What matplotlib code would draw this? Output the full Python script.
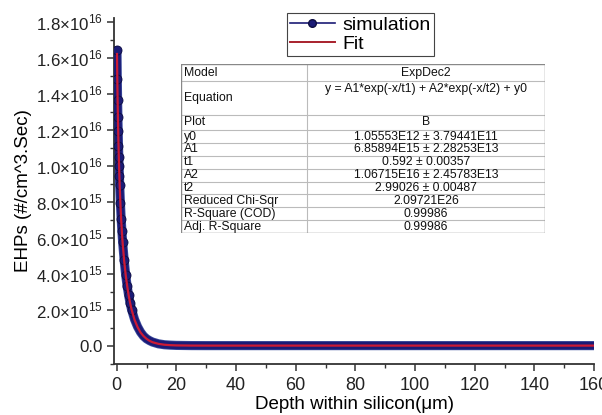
import numpy as np
import matplotlib
matplotlib.use('Agg')
import matplotlib.pyplot as plt
from matplotlib.lines import Line2D
from matplotlib.ticker import FixedLocator, FixedFormatter, MultipleLocator

plt.rcParams['font.family'] = ['Liberation Sans', 'DejaVu Sans']
plt.rcParams['mathtext.fontset'] = 'custom'
plt.rcParams['mathtext.rm'] = 'Liberation Sans'

# depth (um) and EHP values (1e15 /cm^3.s)
depth = [0.1, 0.2, 0.3, 0.4, 0.5, 0.6, 0.7, 0.8, 0.9, 1.0,
         1.25, 1.5, 1.75, 2.0, 2.5, 3.0, 3.5, 4.0, 4.5, 5.0,
         6, 7, 8, 9, 10, 11, 12, 14, 16, 18, 20, 25, 30,
         40, 50, 60, 70, 80, 90, 100, 110, 120, 130, 140, 150, 160]
sim = [16.4, 14.8, 13.65, 12.7, 11.95, 11.1, 10.5, 10.0, 9.45, 8.95,
       7.9, 7.05, 6.35, 5.75, 4.75, 3.95, 3.3, 2.8, 2.35, 2.0,
       1.45, 1.05, 0.75, 0.53, 0.38, 0.28, 0.2, 0.1, 0.05, 0.027, 0.014, 0.003, 0.001,
       0.001, 0.001, 0.001, 0.001, 0.001, 0.001, 0.001, 0.001, 0.001, 0.001, 0.001, 0.001, 0.001]
fit = [16.2, 14.85, 13.75, 12.8, 11.95, 11.2, 10.55, 9.95, 9.4, 8.9,
       7.85, 7.0, 6.3, 5.7, 4.72, 3.95, 3.33, 2.8, 2.37, 2.0,
       1.43, 1.03, 0.73, 0.53, 0.38, 0.27, 0.19, 0.1, 0.05, 0.026, 0.013, 0.003, 0.001,
       0.001, 0.001, 0.001, 0.001, 0.001, 0.001, 0.001, 0.001, 0.001, 0.001, 0.001, 0.001, 0.001]

yticks = [0, 2e15, 4e15, 6e15, 8e15, 1e16, 1.2e16, 1.4e16, 1.6e16, 1.8e16]
ytick_labels = ['0.0'] + ['%s\u00d710$^{%s}$' % (m, e) for m, e in
                          [('2.0', 15), ('4.0', 15), ('6.0', 15), ('8.0', 15), ('1.0', 16),
                           ('1.2', 16), ('1.4', 16), ('1.6', 16), ('1.8', 16)]]

table_rows = [('Model', 'ExpDec2'),
              ('Equation', 'y = A1*exp(-x/t1) + A2*exp(-x/t2) + y0'),
              ('Plot', 'B'),
              ('y0', '1.05553E12 \u00b1 3.79441E11'),
              ('A1', '6.85894E15 \u00b1 2.28253E13'),
              ('t1', '0.592 \u00b1 0.00357'),
              ('A2', '1.06715E16 \u00b1 2.45783E13'),
              ('t2', '2.99026 \u00b1 0.00487'),
              ('Reduced Chi-Sqr', '2.09721E26'),
              ('R-Square (COD)', '0.99986'),
              ('Adj. R-Square', '0.99986')]

W, H = 602, 415
fig = plt.figure(figsize=(W / 100, H / 100), dpi=100)
ax = fig.add_axes([114.3 / W, 1 - 364 / H, (594 - 114.3) / W, (364 - 18) / H])

x = np.array(depth)
ys = np.array(sim) * 1e15
yf = np.array(fit) * 1e15

navy = '#1b1b76'
red = '#cc1a34'
# dense marker band
ax.plot(x, ys, color='#3a4a9c', lw=6.6, solid_capstyle='round', zorder=2)
ax.plot(x, ys, color=navy, lw=5.4, solid_capstyle='round', zorder=3)
ax.plot(x[:20], ys[:20], 'o', color=navy, mec='#0c0c40', ms=6.5, mew=0.6, zorder=4)
ax.plot(x, yf, color=red, lw=1.6, zorder=5)

ax.set_xlim(-0.8, 160)
ax.set_ylim(-1.02e15, 1.82e16)
for s in ['top', 'right']:
    ax.spines[s].set_visible(False)
for s in ['left', 'bottom']:
    ax.spines[s].set_color('#333333')
    ax.spines[s].set_linewidth(1.3)

ax.xaxis.set_major_locator(MultipleLocator(20))
ax.xaxis.set_minor_locator(MultipleLocator(10))
ax.yaxis.set_major_locator(FixedLocator(yticks))
ax.yaxis.set_major_formatter(FixedFormatter(ytick_labels))
ax.yaxis.set_minor_locator(MultipleLocator(1e15))
ax.tick_params(which='major', direction='out', length=5, width=1.1, color='#333333')
ax.tick_params(which='minor', direction='out', length=3, width=1.0, color='#333333')
ax.tick_params(axis='x', labelsize=13, pad=4, labelcolor='#222222')
ax.tick_params(axis='y', labelsize=12.2, pad=3, labelcolor='#222222')

ax.set_xlabel('Depth within silicon(\u03bcm)', fontsize=13.5, labelpad=2)
ax.set_ylabel('EHPs (#/cm^3.Sec)', fontsize=13.5, labelpad=3)

handles = [Line2D([], [], color=navy, lw=1.2, marker='o', ms=5.5, mec='#0c0c40'),
           Line2D([], [], color='#a8202c', lw=1.4)]
leg = ax.legend(handles, ['simulation', 'Fit'], loc='upper left',
                bbox_to_anchor=(287 / W, 1 - 13 / H), bbox_transform=fig.transFigure,
                fontsize=14, frameon=True, fancybox=False, framealpha=1,
                borderpad=0.15, handlelength=2.3, handletextpad=0.4,
                labelspacing=0.1, borderaxespad=0)
leg.get_frame().set_edgecolor('#444444')
leg.get_frame().set_linewidth(0.8)

# fit report table
tx0, tx1, tcol, ty0, ty1 = 181, 545, 307, 64, 233
tab = fig.add_axes([tx0 / W, 1 - ty1 / H, (tx1 - tx0) / W, (ty1 - ty0) / H])
tab.set_xlim(tx0, tx1)
tab.set_ylim(ty1, ty0)
tab.axis('off')
units = np.array([1.35, 2.6, 1.2] + [1.0] * 8)
bounds = ty0 + np.concatenate([[0], np.cumsum(units)]) * (ty1 - ty0) / units.sum()
for b in bounds[1:-1]:
    tab.plot([tx0, tx1], [b, b], color='#bbbbbb', lw=0.8)
tab.plot([tcol, tcol], [ty0, ty1], color='#bbbbbb', lw=0.8)
tab.plot([tx0, tx1, tx1, tx0, tx0], [ty0, ty0, ty1, ty1, ty0], color='#888888', lw=1.0)
for i, (k, v) in enumerate(table_rows):
    top, bot = bounds[i], bounds[i + 1]
    mid = (top + bot) / 2
    tab.text(tx0 + 3, mid, k, fontsize=8.8, va='center', ha='left', color='#111111')
    vy = top + 8 if k == 'Equation' else mid
    tab.text((tcol + tx1) / 2, vy, v, fontsize=8.8, va='center', ha='center', color='#111111')

fig.savefig('out.png', dpi=100)
